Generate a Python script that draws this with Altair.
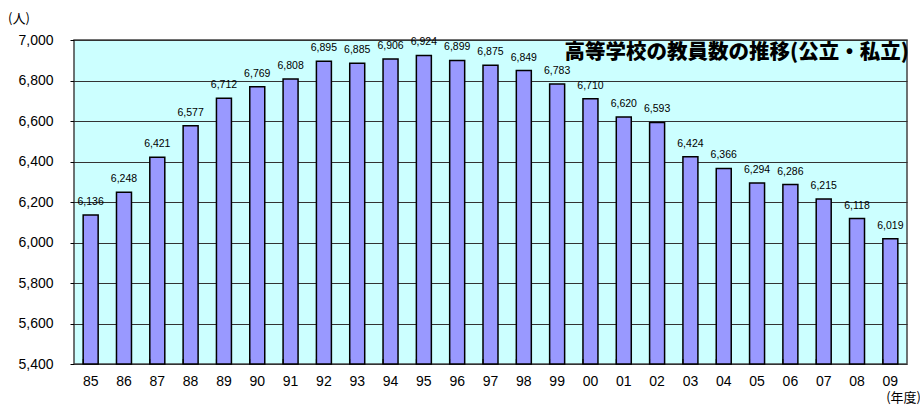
import altair as alt
import pandas as pd

years = ["85", "86", "87", "88", "89", "90", "91", "92", "93", "94", "95", "96", "97",
         "98", "99", "00", "01", "02", "03", "04", "05", "06", "07", "08", "09"]
teachers = [6136, 6248, 6421, 6577, 6712, 6769, 6808, 6895, 6885, 6906, 6924, 6899, 6875,
            6849, 6783, 6710, 6620, 6593, 6424, 6366, 6294, 6286, 6215, 6118, 6019]
title_text = "高等学校の教員数の推移(公立・私立)"
y_unit = "(人)"
x_unit = "(年度)"

df = pd.DataFrame({"year": years, "value": teachers})

W, H = 833, 324
FONT = "Liberation Sans"
JFONT = "Noto Sans CJK JP"

x_scale = alt.Scale(paddingInner=0.55, paddingOuter=0.275)
x_axis = alt.Axis(labelAngle=0, labelFontSize=14, labelFont=FONT, labelColor="black",
                  labelPadding=10, ticks=False, domain=False, grid=False)
y_scale = alt.Scale(domain=[5400, 7000], nice=False, zero=False)
y_axis = alt.Axis(values=list(range(5400, 7001, 200)), format=",.0f",
                  labelFontSize=14, labelFont=FONT, labelColor="black",
                  labelPadding=17, tickSize=4, tickColor="black",
                  domain=False, gridColor="#333333", gridWidth=1)

x_enc = alt.X("year:N", sort=years, title=None, scale=x_scale, axis=x_axis)
y_enc = alt.Y("value:Q", title=None, scale=y_scale, axis=y_axis)

base = alt.Chart(df)

bars = base.mark_bar(color="#9999FF", stroke="black", strokeWidth=1.5).encode(
    x=x_enc, y=y_enc, y2=alt.datum(5400))

labels = base.mark_text(fontSize=10.5, font=FONT, color="black", dy=-13).encode(
    x=x_enc, y=y_enc,
    text=alt.Text("value:Q", format=",.0f"))

ticks = base.mark_rule(color="black", strokeWidth=1).encode(
    x=alt.X("year:N", sort=years, title=None, scale=x_scale, axis=x_axis, bandPosition=0),
    y=alt.value(H), y2=alt.value(H - 5))

title = alt.Chart(pd.DataFrame({"t": [title_text]})).mark_text(
    font=JFONT, fontSize=20.5, fontWeight=900, align="right", baseline="middle", color="black"
).encode(x=alt.value(W + 2), y=alt.value(13), text="t:N")

yunit = alt.Chart(pd.DataFrame({"t": [y_unit]})).mark_text(
    font=JFONT, fontSize=13, align="left", baseline="middle", color="black"
).encode(x=alt.value(-66), y=alt.value(-21), text="t:N")

xunit = alt.Chart(pd.DataFrame({"t": [x_unit]})).mark_text(
    font=JFONT, fontSize=13, align="right", baseline="middle", color="black"
).encode(x=alt.value(W + 14), y=alt.value(H + 34), text="t:N")

chart = alt.layer(bars, labels, ticks, title, yunit, xunit).properties(
    width=W, height=H,
    background="white",
    autosize=alt.AutoSizeParams(type="none"),
    padding={"left": 74, "top": 40, "right": 13, "bottom": 41},
).configure_view(
    fill="#CCFFFF", stroke="#444444", strokeWidth=1.5
)

chart.save("out.html", embed_options={"renderer": "svg", "actions": False})
